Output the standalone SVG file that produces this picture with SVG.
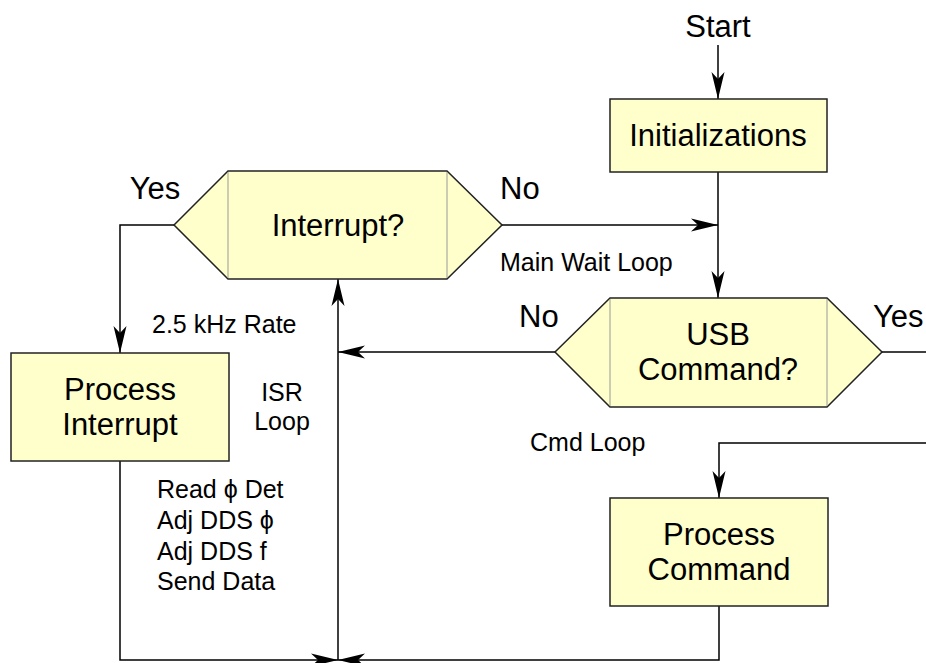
<svg xmlns="http://www.w3.org/2000/svg" width="926" height="663" viewBox="0 0 926 663">
<style>
.node{fill:#FFFFCC;stroke:#222;stroke-width:1.5}
.div{fill:none;stroke:#999;stroke-width:1}
.c{fill:none;stroke:#000;stroke-width:1.5}
.big{font-family:"Liberation Sans",Arial,sans-serif;font-size:31px;fill:#000;text-anchor:middle}
.lbl{font-family:"Liberation Sans",Arial,sans-serif;font-size:31px;fill:#000}
.sm{font-family:"Liberation Sans",Arial,sans-serif;font-size:25px;fill:#000}
</style>
<defs>
<marker id="ah" markerUnits="userSpaceOnUse" viewBox="-28 -8 30 16" refX="0" refY="0" markerWidth="30" markerHeight="16" orient="auto">
<path d="M0,0 L-27,-6.5 L-20,0 L-27,6.5 Z" fill="#000"/>
</marker>
</defs>
<rect width="926" height="663" fill="#fff"/>
<g id="connectors">
<line class="c" x1="718" y1="45" x2="718" y2="99" marker-end="url(#ah)"/>
<line class="c" x1="718" y1="172" x2="718" y2="298" marker-end="url(#ah)"/>
<line class="c" x1="502" y1="225" x2="718" y2="225" marker-end="url(#ah)"/>
<polyline class="c" points="174,225 120,225 120,353" marker-end="url(#ah)"/>
<line class="c" x1="555" y1="352" x2="338" y2="352" marker-end="url(#ah)"/>
<line class="c" x1="338" y1="660" x2="338" y2="279" marker-end="url(#ah)"/>
<line class="c" x1="882" y1="352" x2="926" y2="352"/>
<polyline class="c" points="926,443 719,443 719,498" marker-end="url(#ah)"/>
<polyline class="c" points="120,461 120,660 338,660" marker-end="url(#ah)"/>
<polyline class="c" points="719,606 719,660 338,660" marker-end="url(#ah)"/>
</g>
<g id="start"><text class="big" x="718" y="37">Start</text></g>
<g id="init">
<rect class="node" x="610" y="99" width="217" height="73"/>
<text class="big" x="718" y="146">Initializations</text>
</g>
<g id="interrupt">
<polygon class="node" points="174,225 228,171 447,171 502,225 447,279 228,279"/>
<line class="div" x1="228" y1="172" x2="228" y2="278"/>
<line class="div" x1="447" y1="172" x2="447" y2="278"/>
<text class="big" x="338" y="236">Interrupt?</text>
</g>
<g id="usb">
<polygon class="node" points="555,352 610,298 827,298 882,352 827,407 610,407"/>
<line class="div" x1="610" y1="299" x2="610" y2="406"/>
<line class="div" x1="827" y1="299" x2="827" y2="406"/>
<text class="big" x="718" y="345">USB</text>
<text class="big" x="718" y="380">Command?</text>
</g>
<g id="procint">
<rect class="node" x="11" y="353" width="218" height="108"/>
<text class="big" x="120" y="400">Process</text>
<text class="big" x="120" y="435">Interrupt</text>
</g>
<g id="proccmd">
<rect class="node" x="610" y="498" width="218" height="108"/>
<text class="big" x="719" y="545">Process</text>
<text class="big" x="719" y="580">Command</text>
</g>
<g id="labels">
<text class="big" x="155" y="199">Yes</text>
<text class="lbl" x="500" y="199">No</text>
<text class="lbl" x="519" y="327">No</text>
<text class="lbl" x="873" y="327">Yes</text>
<text class="sm" x="500" y="271">Main Wait Loop</text>
<text class="sm" x="152" y="333">2.5 kHz Rate</text>
<text class="sm" x="530" y="451">Cmd Loop</text>
<text class="sm" x="282" y="401" text-anchor="middle">ISR</text>
<text class="sm" x="282" y="430" text-anchor="middle">Loop</text>
<text class="sm" x="157" y="498">Read ϕ Det</text>
<text class="sm" x="157" y="529">Adj DDS ϕ</text>
<text class="sm" x="157" y="560">Adj DDS f</text>
<text class="sm" x="157" y="590">Send Data</text>
</g>
</svg>
